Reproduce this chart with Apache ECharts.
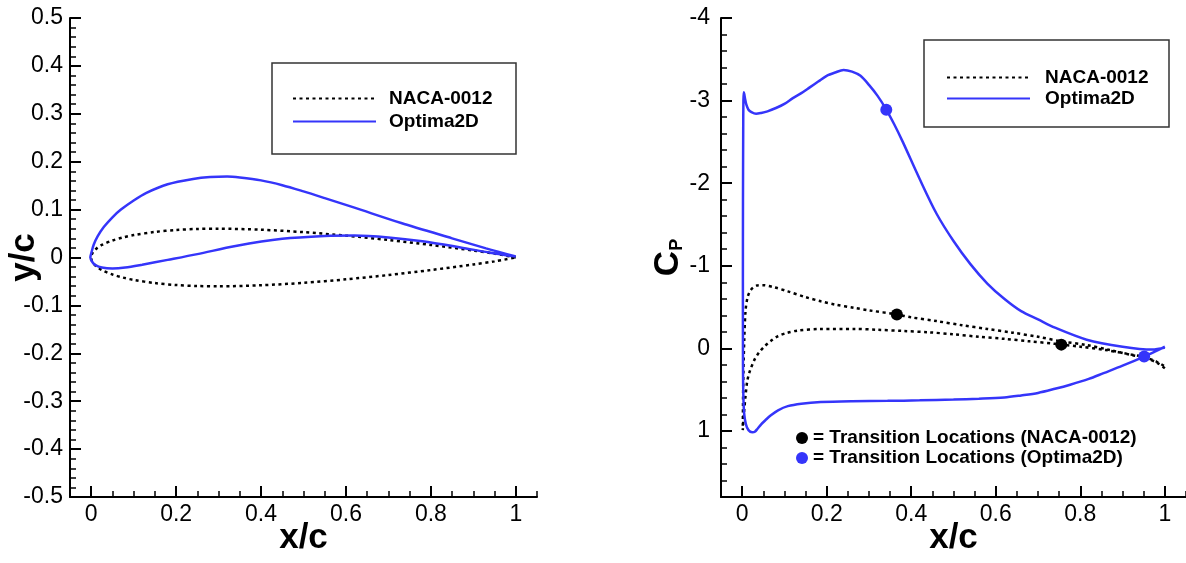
<!DOCTYPE html>
<html>
<head>
<meta charset="utf-8">
<script src="https://cdn.jsdelivr.net/npm/echarts@6/dist/echarts.min.js"></script>
<style>
html,body{margin:0;padding:0;background:#fff;}
#chart{width:1186px;height:563px;}
</style>
</head>
<body>
<div id="chart"></div>
<script>
// ---------- Data ----------
// Left panel: airfoil geometry y/c vs x/c
var nacaGeomX      = [0, 0.001, 0.005, 0.0125, 0.025, 0.05, 0.075, 0.1, 0.15, 0.2, 0.25, 0.3, 0.4, 0.5, 0.6, 0.7, 0.8, 0.9, 0.95, 1.0];
var nacaGeomUpperY = [0, 0.0056, 0.0122, 0.0189, 0.0262, 0.0355, 0.0420, 0.0468, 0.0534, 0.0574, 0.0596, 0.0601, 0.0580, 0.0529, 0.0456, 0.0366, 0.0262, 0.0145, 0.0081, 0.0];
var nacaGeomLowerY = [0, -0.0056, -0.0122, -0.0189, -0.0262, -0.0355, -0.0420, -0.0468, -0.0534, -0.0574, -0.0596, -0.0601, -0.0580, -0.0529, -0.0456, -0.0366, -0.0262, -0.0145, -0.0081, 0.0];

var optGeomUpperX = [1.0, 0.93, 0.85, 0.73, 0.62, 0.55, 0.50, 0.45, 0.40, 0.35, 0.32, 0.28, 0.24, 0.18, 0.13, 0.10, 0.07, 0.05, 0.03, 0.015, 0.006, 0.001, -0.002];
var optGeomUpperY = [0.002, 0.019, 0.040, 0.072, 0.104, 0.124, 0.138, 0.151, 0.161, 0.167, 0.169, 0.168, 0.164, 0.153, 0.135, 0.119, 0.100, 0.084, 0.064, 0.044, 0.027, 0.012, 0.0];
var optGeomLowerX = [-0.002, 0.003, 0.01, 0.025, 0.05, 0.08, 0.12, 0.18, 0.25, 0.34, 0.45, 0.55, 0.62, 0.70, 0.78, 0.87, 0.94, 1.0];
var optGeomLowerY = [0.0, -0.010, -0.016, -0.021, -0.023, -0.021, -0.015, -0.005, 0.007, 0.024, 0.039, 0.045, 0.046, 0.042, 0.034, 0.021, 0.010, 0.002];

// Right panel: pressure coefficient Cp vs x/c
var nacaCpUpperX = [1.0, 0.98, 0.95, 0.92, 0.87, 0.815, 0.755, 0.70, 0.64, 0.58, 0.52, 0.46, 0.40, 0.366, 0.30, 0.265, 0.22, 0.186, 0.15, 0.108, 0.075, 0.049, 0.035, 0.021, 0.013, 0.008, 0.005, 0.003, 0.002, 0.0015];
var nacaCpUpperY = [0.24, 0.17, 0.11, 0.08, 0.02, -0.04, -0.085, -0.14, -0.19, -0.235, -0.28, -0.33, -0.375, -0.41, -0.46, -0.49, -0.53, -0.57, -0.62, -0.69, -0.74, -0.765, -0.76, -0.71, -0.62, -0.45, -0.1, 0.3, 0.7, 0.99];
var nacaCpLowerX = [0.0015, 0.004, 0.008, 0.012, 0.018, 0.029, 0.04, 0.053, 0.068, 0.084, 0.105, 0.131, 0.186, 0.265, 0.32, 0.383, 0.44, 0.50, 0.56, 0.62, 0.68, 0.74, 0.80, 0.86, 0.92, 0.95, 0.98, 1.0];
var nacaCpLowerY = [0.99, 0.80, 0.58, 0.40, 0.28, 0.14, 0.05, -0.024, -0.09, -0.146, -0.185, -0.215, -0.235, -0.235, -0.225, -0.21, -0.195, -0.17, -0.14, -0.115, -0.085, -0.055, -0.02, 0.02, 0.075, 0.105, 0.16, 0.22];

var optCpUpperX = [1.0, 0.97, 0.90, 0.815, 0.74, 0.70, 0.66, 0.62, 0.58, 0.54, 0.50, 0.46, 0.42, 0.38, 0.36, 0.34, 0.32, 0.30, 0.28, 0.26, 0.24, 0.22, 0.20, 0.18, 0.16, 0.14, 0.12, 0.10, 0.08, 0.06, 0.045, 0.033, 0.022, 0.015, 0.010, 0.007, 0.005, 0.004, 0.003, 0.0025, 0.002, 0.0018, 0.002, 0.003, 0.005, 0.009, 0.015, 0.024];
var optCpUpperY = [-0.01, 0.015, -0.02, -0.105, -0.25, -0.35, -0.45, -0.60, -0.785, -1.02, -1.30, -1.63, -2.05, -2.50, -2.71, -2.90, -3.06, -3.19, -3.30, -3.35, -3.37, -3.34, -3.30, -3.23, -3.16, -3.09, -3.03, -2.96, -2.91, -2.87, -2.85, -2.84, -2.86, -2.89, -2.95, -3.02, -3.08, -3.10, -3.0, -2.6, -1.8, -0.8, 0.2, 0.6, 0.8, 0.92, 0.99, 1.015];
var optCpLowerX = [0.024, 0.03, 0.037, 0.045, 0.055, 0.068, 0.085, 0.108, 0.14, 0.186, 0.26, 0.344, 0.42, 0.50, 0.56, 0.62, 0.66, 0.70, 0.74, 0.776, 0.82, 0.855, 0.90, 0.951, 0.98, 1.0];
var optCpLowerY = [1.015, 1.01, 0.97, 0.92, 0.87, 0.81, 0.75, 0.70, 0.67, 0.65, 0.64, 0.636, 0.63, 0.62, 0.61, 0.595, 0.57, 0.54, 0.49, 0.44, 0.37, 0.30, 0.21, 0.10, 0.03, -0.02];

// Transition locations
var nacaTransX = [0.366, 0.755];
var nacaTransY = [-0.41, -0.045];
var optTransX  = [0.341, 0.951];
var optTransY  = [-2.89, 0.10];

// Tick values
var xMajorTicks  = [0, 0.2, 0.4, 0.6, 0.8, 1];
var cpMajorTicks = [-4, -3, -2, -1, 0, 1];

// Names
var nameNaca = 'NACA-0012';
var nameOpt  = 'Optima2D';
var nameTrNaca = '= Transition Locations (NACA-0012)';
var nameTrOpt  = '= Transition Locations (Optima2D)';

// ---------- Build ----------
function pairs(xs, ys) { var o = []; for (var i = 0; i < xs.length; i++) o.push([xs[i], ys[i]]); return o; }
function revPairs(xs, ys) { return pairs(xs, ys).reverse(); }

var nacaGeom = revPairs(nacaGeomX, nacaGeomUpperY).concat(pairs(nacaGeomX, nacaGeomLowerY).slice(1));
var optGeom  = pairs(optGeomUpperX, optGeomUpperY).concat(pairs(optGeomLowerX, optGeomLowerY).slice(1));
var nacaCp   = pairs(nacaCpUpperX, nacaCpUpperY).concat(pairs(nacaCpLowerX, nacaCpLowerY).slice(1));
var optCp    = pairs(optCpUpperX, optCpUpperY).concat(pairs(optCpLowerX, optCpLowerY).slice(1));

var FONT = 'Liberation Sans, Arial, Helvetica, sans-serif';
var BLUE = '#3535fa';
var axisLineStyle = { show: true, onZero: false, lineStyle: { color: '#000', width: 2 } };
var labelStyle = { color: '#000', fontSize: 23, fontFamily: FONT };
var nameStyle = { color: '#000', fontSize: 35, fontWeight: 'bold', fontFamily: FONT };

function majorX(grid) {
  return {
    type: 'value', gridIndex: grid, min: -0.05, max: 1.05, position: 'bottom',
    axisLine: axisLineStyle,
    axisTick: { show: true, inside: true, length: 11, lineStyle: { color: '#000', width: 2 }, customValues: xMajorTicks },
    axisLabel: Object.assign({ margin: 6, customValues: xMajorTicks,
      formatter: function (v) { return Math.abs(v * 5 - Math.round(v * 5)) < 1e-6 ? String(+v.toFixed(2)) : ''; } }, labelStyle),
    splitLine: { show: false },
    name: 'x/c', nameLocation: 'middle', nameGap: 24, nameMoveOverlap: false, nameTextStyle: nameStyle
  };
}
function minorX(grid) {
  return {
    type: 'value', gridIndex: grid, min: -0.05, max: 1.05, interval: 0.05, position: 'bottom', offset: 0,
    axisLine: { show: false, onZero: false }, axisLabel: { show: false }, splitLine: { show: false },
    axisTick: { show: true, inside: true, length: 6, lineStyle: { color: '#000', width: 1.5 } }
  };
}

var option = {
  backgroundColor: '#fff',
  animation: false,
  textStyle: { fontFamily: FONT },
  grid: [
    { left: 70, top: 18, width: 467, bottom: 66, containLabel: false, outerBoundsMode: 'none' },
    { left: 721, top: 18, right: 0, bottom: 66, containLabel: false, outerBoundsMode: 'none' }
  ],
  xAxis: [ majorX(0), minorX(0), majorX(1), minorX(1) ],
  yAxis: [
    {
      type: 'value', gridIndex: 0, min: -0.5, max: 0.5, interval: 0.1, position: 'left',
      axisLine: axisLineStyle,
      axisTick: { show: true, inside: true, length: 11, lineStyle: { color: '#000', width: 2 } },
      minorTick: { show: true, splitNumber: 5, length: 6, lineStyle: { color: '#000', width: 1.5 } },
      axisLabel: Object.assign({ margin: 7 }, labelStyle),
      splitLine: { show: false },
      name: 'y/c', nameLocation: 'middle', nameGap: 28, nameMoveOverlap: false, nameTextStyle: nameStyle
    },
    {
      type: 'value', gridIndex: 1, min: -4, max: 1.8, interval: 1, inverse: true, position: 'left',
      axisLine: axisLineStyle,
      axisTick: { show: true, inside: true, length: 11, lineStyle: { color: '#000', width: 2 }, customValues: cpMajorTicks },
      axisLabel: Object.assign({ margin: 11, customValues: cpMajorTicks,
        formatter: function (v) { return Math.abs(v - Math.round(v)) < 1e-6 ? String(Math.round(v)) : ''; } }, labelStyle),
      splitLine: { show: false },
      name: '{c|C}{p|P}', nameLocation: 'middle', nameGap: 35, nameMoveOverlap: false,
      nameTextStyle: {
        color: '#000', fontFamily: FONT, fontWeight: 'bold',
        rich: {
          c: { fontSize: 35, fontWeight: 'bold', lineHeight: 44, verticalAlign: 'bottom', fontFamily: FONT, color: '#000' },
          p: { fontSize: 18, fontWeight: 'bold', lineHeight: 18, verticalAlign: 'bottom', fontFamily: FONT, color: '#000' }
        }
      }
    },
    {
      type: 'value', gridIndex: 1, min: -4, max: 1.8, interval: 0.2, inverse: true, position: 'left', offset: 0,
      axisLine: { show: false, onZero: false }, axisLabel: { show: false }, splitLine: { show: false },
      axisTick: { show: true, inside: true, length: 6, lineStyle: { color: '#000', width: 1.5 } }
    }
  ],
  legend: [
    {
      data: [nameNaca, nameOpt], orient: 'vertical', left: 292, top: 89,
      itemWidth: 83, itemHeight: 20, itemGap: 4, selectedMode: false, padding: 0,
      itemStyle: { opacity: 0, borderWidth: 0 },
      textStyle: { color: '#000', fontSize: 19, fontWeight: 'bold', fontFamily: FONT, padding: [0, 0, 0, 8] }
    },
    {
      data: [nameNaca, nameOpt], orient: 'vertical', left: 946, top: 68,
      itemWidth: 83, itemHeight: 20, itemGap: 2, selectedMode: false, padding: 0,
      itemStyle: { opacity: 0, borderWidth: 0 },
      textStyle: { color: '#000', fontSize: 19, fontWeight: 'bold', fontFamily: FONT, padding: [0, 0, 0, 10] }
    },
    {
      data: [nameTrNaca, nameTrOpt], orient: 'vertical', left: 796, top: 428,
      itemWidth: 12, itemHeight: 12, itemGap: 0, selectedMode: false, padding: 0,
      textStyle: { color: '#000', fontSize: 19, fontWeight: 'bold', fontFamily: FONT, lineHeight: 20 }
    }
  ],
  graphic: [
    { type: 'rect', shape: { x: 272, y: 63, width: 244, height: 91 }, style: { fill: 'none', stroke: '#333', lineWidth: 1.5 }, z: 1 },
    { type: 'rect', shape: { x: 924, y: 40, width: 245, height: 87 }, style: { fill: 'none', stroke: '#333', lineWidth: 1.5 }, z: 1 }
  ],
  series: [
    { name: nameNaca, type: 'line', xAxisIndex: 0, yAxisIndex: 0, data: nacaGeom, symbol: 'none', smooth: 0.3,
      lineStyle: { color: '#000', width: 2.5, type: [3, 3.5] }, itemStyle: { color: '#000' } },
    { name: nameOpt, type: 'line', xAxisIndex: 0, yAxisIndex: 0, data: optGeom, symbol: 'none', smooth: 0.3,
      lineStyle: { color: BLUE, width: 2.5 }, itemStyle: { color: BLUE } },
    { name: nameNaca, type: 'line', xAxisIndex: 2, yAxisIndex: 1, data: nacaCp, symbol: 'none', smooth: 0.3,
      lineStyle: { color: '#000', width: 2.5, type: [3, 3.5] }, itemStyle: { color: '#000' } },
    { name: nameOpt, type: 'line', xAxisIndex: 2, yAxisIndex: 1, data: optCp, symbol: 'none', smooth: 0.3,
      lineStyle: { color: BLUE, width: 2.5 }, itemStyle: { color: BLUE } },
    { name: nameTrNaca, type: 'scatter', xAxisIndex: 2, yAxisIndex: 1, data: pairs(nacaTransX, nacaTransY),
      symbol: 'circle', symbolSize: 12, itemStyle: { color: '#000', opacity: 1 }, z: 5 },
    { name: nameTrOpt, type: 'scatter', xAxisIndex: 2, yAxisIndex: 1, data: pairs(optTransX, optTransY),
      symbol: 'circle', symbolSize: 12, itemStyle: { color: BLUE, opacity: 1 }, z: 5 }
  ]
};

var chart = echarts.init(document.getElementById('chart'), null, { renderer: 'canvas' });
chart.setOption(option);
</script>
</body>
</html>
